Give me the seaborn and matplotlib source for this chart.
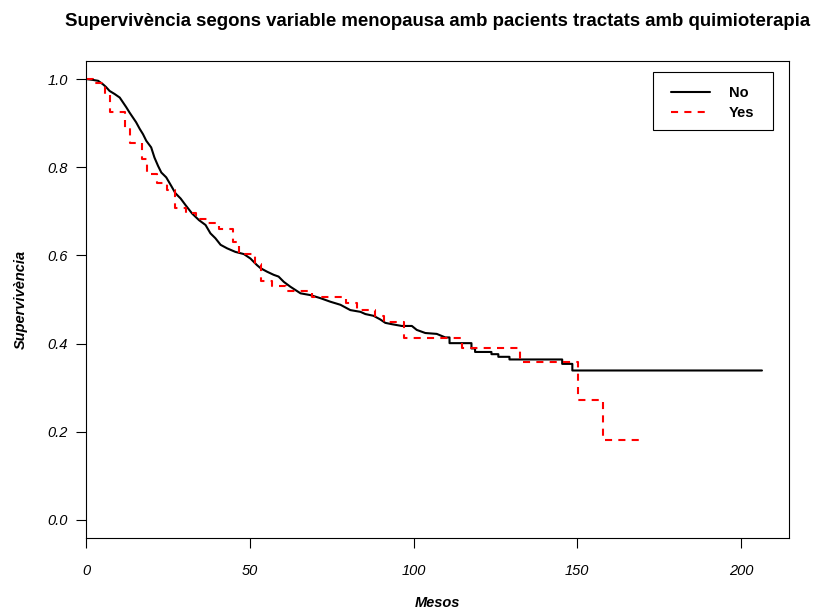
import numpy as np
import pandas as pd
import matplotlib
matplotlib.use("Agg")
import matplotlib.pyplot as plt
from matplotlib.patches import Rectangle
import seaborn as sns

# ---- data ----
# "No" curve: points along the drawn path (dense early part, corners of the later steps)
no_time = [0, 2.1, 3.7, 5.2, 6.1, 7.2, 8.75, 10.3, 11.3, 12.3, 13.3, 14.3, 15.3, 16.4,
           17.4, 18.4, 19.9, 20.9, 22.0, 23.0, 24.5, 26.0, 27.3, 28.9, 30.4, 32.4, 34.5,
           36.5, 38.0, 39.5, 41.1, 43.1, 45.6, 48.2, 50.2, 52.2, 53.3, 55.3, 57.3, 58.8,
           60.4, 62.4, 65.5, 68.5, 71.6, 74.6, 77.7, 80.7, 83.8, 85.3, 87.8, 89.8, 91.4,
           93.4, 96.4, 99.5, 101.0, 103.6, 107.1, 109.7,
           111.0, 111.0, 117.7, 117.7, 118.8, 118.8, 123.8, 123.8, 125.9, 125.9,
           129.3, 129.3, 145.4, 145.4, 148.5, 148.5, 206.4]
no_surv = [1.0, 0.998, 0.996, 0.988, 0.982, 0.973, 0.966, 0.958, 0.947, 0.936, 0.924, 0.913,
           0.902, 0.887, 0.875, 0.860, 0.845, 0.822, 0.803, 0.788, 0.777, 0.758, 0.741,
           0.729, 0.714, 0.695, 0.680, 0.669, 0.650, 0.639, 0.624, 0.616, 0.608, 0.603,
           0.593, 0.578, 0.571, 0.563, 0.556, 0.552, 0.540, 0.529, 0.514, 0.510, 0.503,
           0.495, 0.488, 0.476, 0.472, 0.467, 0.463, 0.455, 0.447, 0.444, 0.440, 0.440,
           0.431, 0.424, 0.422, 0.414,
           0.414, 0.401, 0.401, 0.389, 0.389, 0.381, 0.381, 0.376, 0.376, 0.370,
           0.370, 0.364, 0.364, 0.354, 0.354, 0.339, 0.339]

# "Yes" curve: Kaplan-Meier step times and levels
yes_time = [0, 2.1, 5.8, 7.3, 11.9, 13.4, 17.1, 18.6, 21.6, 24.7, 27.1, 30.5, 33.5, 36.9,
            40.5, 44.8, 46.6, 51.5, 53.4, 56.7, 61.0, 68.9, 79.3, 82.6, 88.1, 90.9, 97.0,
            114.9, 132.6, 150.3, 157.9, 168.9]
yes_surv = [1.0, 0.990, 0.966, 0.925, 0.890, 0.855, 0.818, 0.785, 0.764, 0.748, 0.707,
            0.696, 0.683, 0.673, 0.660, 0.630, 0.603, 0.580, 0.542, 0.531, 0.519, 0.506,
            0.492, 0.476, 0.463, 0.449, 0.413, 0.391, 0.358, 0.271, 0.181, 0.181]

groups = ["No", "Yes"]
x_ticks = [0, 50, 100, 150, 200]
y_ticks = [0.0, 0.2, 0.4, 0.6, 0.8, 1.0]

title = "Supervivència segons variable menopausa amb pacients tractats amb quimioterapia"
xlabel = "Mesos"
ylabel = "Supervivència"

df_no = pd.DataFrame({"time": no_time, "surv": no_surv, "group": groups[0]})
df_yes = pd.DataFrame({"time": yes_time, "surv": yes_surv, "group": groups[1]})

# ---- style ----
sns.set_theme(style="white")
plt.rcParams["font.family"] = ["Liberation Sans", "DejaVu Sans"]
plt.rcParams["text.color"] = "black"
plt.rcParams["axes.labelcolor"] = "black"
plt.rcParams["xtick.color"] = "black"
plt.rcParams["ytick.color"] = "black"

fig = plt.figure(figsize=(8.14, 6.13), dpi=100)
ax = fig.add_axes([86 / 814, 1 - 537.6 / 613, (789 - 86) / 814, (537.6 - 61.4) / 613])

sns.lineplot(data=df_no, x="time", y="surv", ax=ax, color="black", linewidth=1.5,
             estimator=None, sort=False, label=groups[0])
sns.lineplot(data=df_yes, x="time", y="surv", ax=ax, color="#ff0000", linewidth=1.5,
             drawstyle="steps-post", estimator=None, linestyle=(0, (3.4, 3.0)),
             label=groups[1])

tmax = max(no_time)
ax.set_xlim(0, tmax * 1.04)
ax.set_ylim(-0.04, 1.04)
ax.set_xticks(x_ticks)
ax.set_yticks(y_ticks)
ax.set_xticklabels([str(v) for v in x_ticks], fontstyle="italic", fontsize=10.5)
ax.set_yticklabels([f"{v:.1f}" for v in y_ticks], fontstyle="italic", fontsize=10.5)
ax.tick_params(axis="x", direction="out", length=7, width=0.8, pad=12, bottom=True)
ax.tick_params(axis="y", direction="out", length=7, width=0.8, pad=6, left=True)
for sp in ax.spines.values():
    sp.set_visible(True)
    sp.set_color("black")
    sp.set_linewidth(0.8)

ax.set_xlabel(xlabel, fontstyle="italic", fontweight="bold", fontsize=10.5, labelpad=13)
ax.set_ylabel(ylabel, fontstyle="italic", fontweight="bold", fontsize=10.5, labelpad=14)

fig.text(437.5 / 814, 1 - 22 / 613, title, ha="center", va="center",
         fontweight="bold", fontsize=13.45, color="black")

leg = ax.legend(loc="upper left", bbox_to_anchor=(671 / 814, 1 - 86 / 613),
                bbox_transform=fig.transFigure, frameon=False,
                handlelength=2.67, handletextpad=1.3, borderpad=0,
                labelspacing=0.42, borderaxespad=0,
                prop={"weight": "bold", "size": 10.5})
fig.add_artist(Rectangle((653 / 814, 1 - 130 / 613), 120 / 814, 58 / 613,
                         transform=fig.transFigure, fill=False, edgecolor="black",
                         linewidth=0.8))

fig.savefig("out.png", dpi=100)
